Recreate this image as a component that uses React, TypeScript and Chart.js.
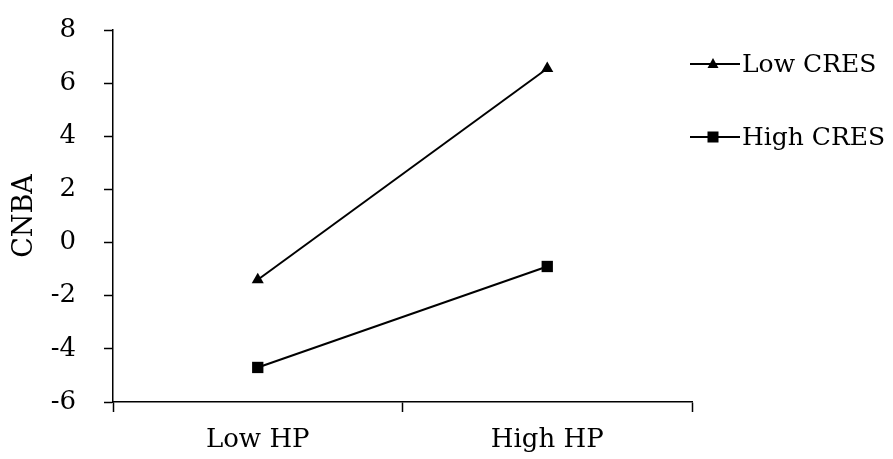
import React, { useEffect, useRef } from "react";
import { Chart, registerables } from "chart.js";

Chart.register(...registerables);

const categories = ["Low HP", "High HP"];
const lowCres = [-1.4, 6.55];
const highCres = [-4.7, -0.9];
const seriesNames = ["Low CRES", "High CRES"];
const yTicks = [-6, -4, -2, 0, 2, 4, 6, 8];
const yTitle = "CNBA";

const FONT = "'DejaVu Serif', serif";
const FS = 26;

const legendPlugin = {
  id: "customLegend",
  afterDraw(chart: any) {
    const ctx = chart.ctx;
    const rows = [64, 137];
    ctx.save();
    chart.data.datasets.forEach((ds: any, i: number) => {
      const y = rows[i];
      ctx.strokeStyle = "#000";
      ctx.lineWidth = 2;
      ctx.beginPath();
      ctx.moveTo(690, y);
      ctx.lineTo(740, y);
      ctx.stroke();
      ctx.fillStyle = "#000";
      const cx = 713;
      if (ds.pointStyle === "triangle") {
        ctx.beginPath();
        ctx.moveTo(cx, y - 6);
        ctx.lineTo(cx + 5.5, y + 4);
        ctx.lineTo(cx - 5.5, y + 4);
        ctx.closePath();
        ctx.fill();
      } else {
        ctx.fillRect(cx - 5.5, y - 5.5, 11, 11);
      }
      ctx.font = `25px ${FONT}`;
      ctx.textBaseline = "middle";
      ctx.textAlign = "left";
      ctx.fillText(ds.label, 742, y + 1);
    });
    ctx.restore();
  },
};

export default function App() {
  const ref = useRef<HTMLCanvasElement>(null);
  useEffect(() => {
    if (!ref.current) return;
    const chart = new Chart(ref.current, {
      type: "line",
      data: {
        labels: categories,
        datasets: [
          {
            label: seriesNames[0],
            data: lowCres,
            borderColor: "#000",
            backgroundColor: "#000",
            borderWidth: 2,
            pointStyle: "triangle",
            pointRadius: 7,
            pointBorderWidth: 0,
          },
          {
            label: seriesNames[1],
            data: highCres,
            borderColor: "#000",
            backgroundColor: "#000",
            borderWidth: 2,
            pointStyle: "rect",
            pointRadius: 8,
            pointBorderWidth: 0,
          },
        ],
      },
      options: {
        animation: false,
        responsive: false,
        devicePixelRatio: 1,
        layout: { padding: { top: 30, right: 201, left: 0, bottom: 0 } },
        plugins: {
          legend: { display: false },
          tooltip: { enabled: false },
        },
        scales: {
          x: {
            type: "category",
            offset: true,
            grid: {
              offset: true,
              drawOnChartArea: false,
              tickLength: 10,
              tickColor: "#000",
              tickWidth: 1.5,
            },
            border: { display: true, color: "#000", width: 1.5 },
            ticks: {
              color: "#000",
              font: { family: FONT, size: FS },
              padding: 13,
              maxRotation: 0,
            },
            afterFit(scale: any) {
              scale.height = 57;
              scale.paddingLeft = 0;
              scale.paddingRight = 0;
            },
          },
          y: {
            min: -6,
            max: 8,
            afterBuildTicks(scale: any) {
              scale.ticks = yTicks.map((v) => ({ value: v }));
            },
            grid: {
              drawOnChartArea: false,
              tickLength: 9,
              tickColor: "#000",
              tickWidth: 1.5,
            },
            border: { display: true, color: "#000", width: 1.5 },
            ticks: {
              color: "#000",
              font: { family: FONT, size: FS },
              padding: 28,
            },
            title: {
              display: true,
              text: yTitle,
              color: "#000",
              font: { family: FONT, size: FS + 1 },
              padding: { top: 9, bottom: 0 },
            },
            afterFit(scale: any) {
              scale.width = 113;
              scale.paddingTop = 0;
              scale.paddingBottom = 0;
            },
          },
        },
      },
      plugins: [legendPlugin],
    });
    return () => chart.destroy();
  }, []);
  return (
    <div style={{ position: "fixed", left: 0, top: 0, width: 893, height: 459, background: "#fff" }}>
      <canvas ref={ref} width={893} height={459} style={{ width: 893, height: 459 }} />
    </div>
  );
}
